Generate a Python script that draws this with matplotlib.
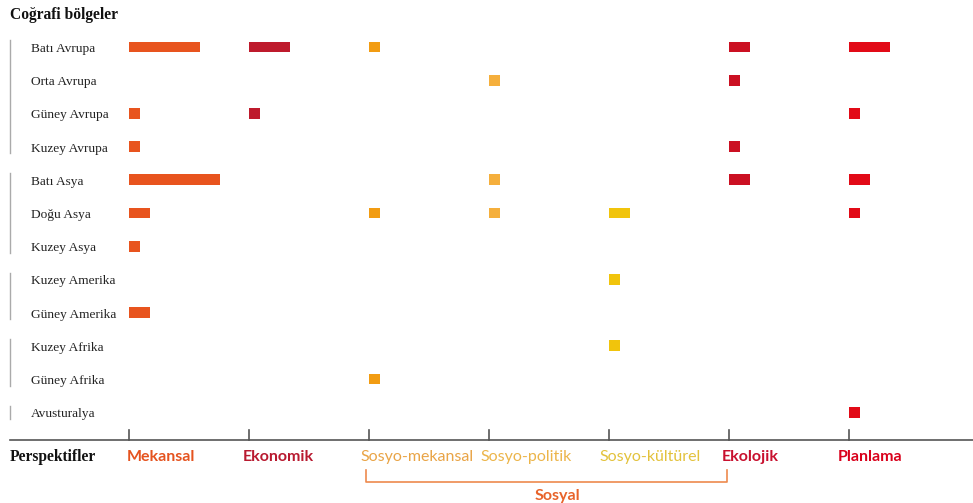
import matplotlib.pyplot as plt

regions = [
    "Batı Avrupa", "Orta Avrupa", "Güney Avrupa", "Kuzey Avrupa",
    "Batı Asya", "Doğu Asya", "Kuzey Asya",
    "Kuzey Amerika", "Güney Amerika",
    "Kuzey Afrika", "Güney Afrika",
    "Avusturalya",
]
# (first row, last row) of each continent bracket on the left
region_groups = [(0, 3), (4, 6), (7, 8), (9, 10), (11, 11)]

perspectives = [
    "Mekansal", "Ekonomik", "Sosyo-mekansal", "Sosyo-politik",
    "Sosyo-kültürel", "Ekolojik", "Planlama",
]

# number of studies per region for each perspective
counts = {
    "Mekansal": {"Batı Avrupa": 7, "Güney Avrupa": 1, "Kuzey Avrupa": 1,
                 "Batı Asya": 9, "Doğu Asya": 2, "Kuzey Asya": 1,
                 "Güney Amerika": 2},
    "Ekonomik": {"Batı Avrupa": 4, "Güney Avrupa": 1},
    "Sosyo-mekansal": {"Batı Avrupa": 1, "Doğu Asya": 1, "Güney Afrika": 1},
    "Sosyo-politik": {"Orta Avrupa": 1, "Batı Asya": 1, "Doğu Asya": 1},
    "Sosyo-kültürel": {"Doğu Asya": 2, "Kuzey Amerika": 1, "Kuzey Afrika": 1},
    "Ekolojik": {"Batı Avrupa": 2, "Orta Avrupa": 1, "Kuzey Avrupa": 1,
                 "Batı Asya": 2},
    "Planlama": {"Batı Avrupa": 4, "Güney Avrupa": 1, "Batı Asya": 2,
                 "Doğu Asya": 1, "Avusturalya": 1},
}

bar_colors = ["#E8541E", "#BE1A2C", "#F29C12", "#F5AF3C",
              "#F1C40C", "#CB1022", "#E20A17"]
label_colors = ["#E5531F", "#B81A30", "#E9A446", "#ECB54A",
                "#E3C23C", "#C8102E", "#D9001B"]
label_bold = [True, True, False, False, False, True, True]
label_shift = [-0.25, -0.6, -0.9, -0.9, -1.0, -0.7, -1.1]

col_step = 12  # bar units between two perspective columns
col_x = [i * col_step for i in range(len(perspectives))]

fig = plt.figure(figsize=(9.73, 5.03), dpi=100)
ax = fig.add_axes([0, 0, 1, 1])
ax.set_xlim(-12.9, 84.4)
ax.set_ylim(13.735, -1.416)
ax.axis("off")

serif = "Liberation Serif"
sans = "Lato"

# bars
for j, name in enumerate(perspectives):
    for region, n in counts[name].items():
        ax.barh(regions.index(region), n + 0.1, left=col_x[j], height=0.33,
                color=bar_colors[j], linewidth=0)

# region labels
for i, r in enumerate(regions):
    ax.text(-9.8, i + 0.15, r, fontsize=9.6, family=serif, color="#222222",
            ha="left", va="baseline")

# continent brackets
for a, b in region_groups:
    ax.plot([-11.9, -11.9], [a - 0.2, b + 0.2], color="#AAAAAA", lw=1)

ax.text(-11.9, -0.84, "Coğrafi bölgeler", fontsize=11.2, family=serif,
        fontweight="bold", color="#111111", ha="left", va="baseline")

# bottom axis
axis_y = 11.84
ax.plot([-11.9, 84.4], [axis_y, axis_y], color="#555555", lw=1.2)
for j, x in enumerate(col_x):
    ax.plot([x, x], [axis_y - 0.3, axis_y], color="#555555", lw=1.2)
    ax.text(x + label_shift[j], 12.48, perspectives[j], fontsize=11.5,
            family=sans, fontweight="bold" if label_bold[j] else "normal",
            color=label_colors[j], ha="left", va="baseline")

ax.text(-11.9, 12.48, "Perspektifler", fontsize=11.2, family=serif,
        fontweight="bold", color="#111111", ha="left", va="baseline")

# "Sosyal" bracket under the three social perspectives
bx0, bx1 = col_x[2] - 0.3, col_x[5] - 0.2
ax.plot([bx0, bx0, bx1, bx1], [12.74, 13.1, 13.1, 12.74],
        color="#EE8A4E", lw=1.2)
ax.text(42.8, 13.64, "Sosyal", fontsize=11.5, family=sans,
        fontweight="bold", color="#E8632A", ha="center", va="baseline")

fig.savefig("out.png", dpi=100)
